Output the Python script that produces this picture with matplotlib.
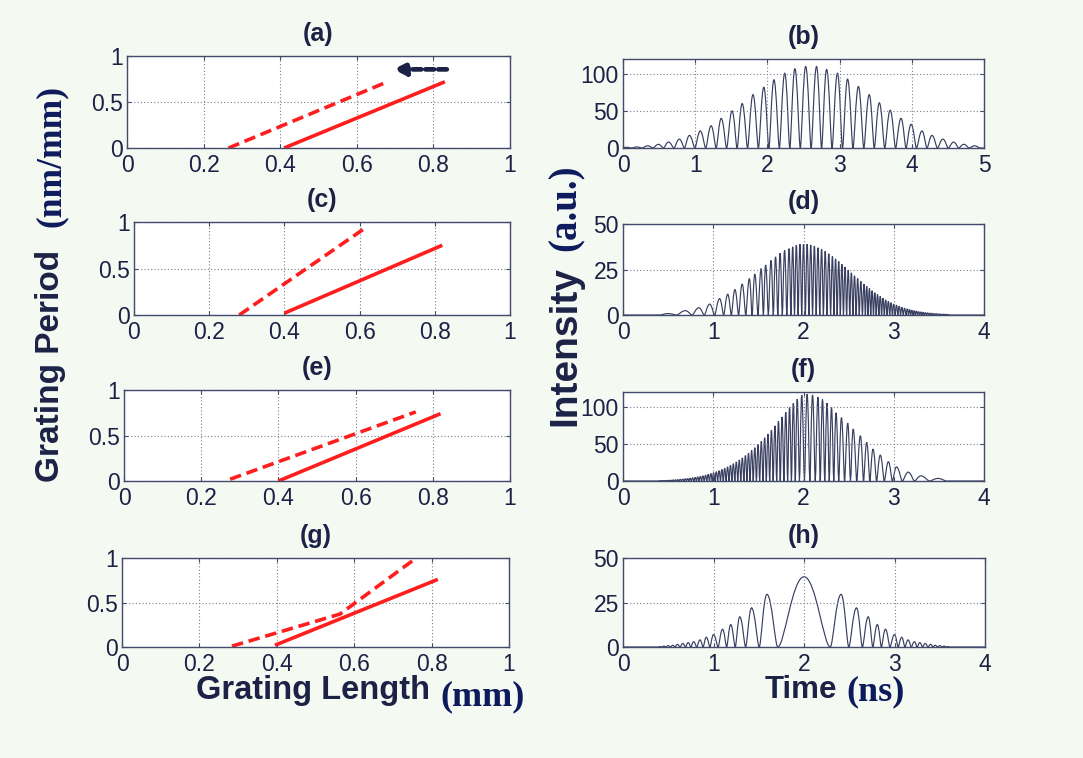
"""
Grating period profiles (left) and output pulse intensity (right).
"""

import matplotlib
matplotlib.use("Agg")
import matplotlib.pyplot as plt
from matplotlib.path import Path
from matplotlib.patches import PathPatch

# ─── Data ────────────────────────────────────────────────────────────────────

# left column: grating period vs grating length (solid / dashed red lines)
A_SOLID_X = [0.41, 0.83]
A_SOLID_Y = [0.0, 0.72]
A_DASH_X = [0.265, 0.68]
A_DASH_Y = [0.0, 0.72]
A_ARROW_TAIL = (0.835, 0.855)
A_ARROW_HEAD = (0.695, 0.855)

C_SOLID_X = [0.40, 0.82]
C_SOLID_Y = [0.02, 0.75]
C_DASH_X = [0.28, 0.62]
C_DASH_Y = [0.0, 0.95]

E_SOLID_X = [0.40, 0.82]
E_SOLID_Y = [0.0, 0.74]
E_DASH_X = [0.275, 0.756]
E_DASH_Y = [0.02, 0.76]

G_SOLID_X = [0.395, 0.816]
G_SOLID_Y = [0.02, 0.76]
G_DASH_X = [0.284, 0.563, 0.757]
G_DASH_Y = [0.01, 0.37, 0.99]

LEFT_XTICKS = [0, 0.2, 0.4, 0.6, 0.8, 1]
LEFT_XTICKLABELS = ["0", "0.2", "0.4", "0.6", "0.8", "1"]
LEFT_YTICKS = [0, 0.5, 1]
LEFT_YTICKLABELS = ["0", "0.5", "1"]

# right column: intensity peaks (time in ns, height in a.u.)
B_PEAK_T = [0.05, 0.19, 0.34, 0.49, 0.63, 0.78, 0.92, 1.07, 1.22, 1.36,
            1.51, 1.65, 1.80, 1.95, 2.09, 2.24, 2.38, 2.53, 2.68, 2.82,
            2.97, 3.11, 3.26, 3.41, 3.55, 3.70, 3.85, 3.99, 4.14, 4.28,
            4.43, 4.58, 4.72, 4.87]
B_PEAK_H = [1, 1.5, 3, 5, 8, 12, 17, 23, 30, 40,
            50, 60, 72, 82, 92, 101, 107, 110, 110, 106,
            101, 93, 83, 72, 61, 51, 40, 32, 23, 17,
            12, 8, 5, 3]

D_PEAK_T = [0.50, 0.69, 0.84, 0.96, 1.07, 1.16, 1.24, 1.32, 1.40, 1.46,
            1.53, 1.58, 1.64, 1.69, 1.74, 1.79, 1.84, 1.88, 1.92, 1.96,
            2.00, 2.04, 2.08, 2.12, 2.16, 2.20, 2.24, 2.28, 2.32, 2.355,
            2.39, 2.425, 2.46, 2.495, 2.53, 2.565, 2.60, 2.635, 2.67, 2.70,
            2.73, 2.76, 2.79, 2.82, 2.85, 2.88, 2.91, 2.94, 2.97, 3.00,
            3.03, 3.06, 3.09, 3.12, 3.15, 3.175, 3.20, 3.225, 3.25, 3.275,
            3.30, 3.325, 3.35, 3.375, 3.40, 3.425, 3.45, 3.475, 3.50, 3.525,
            3.55, 3.575, 3.60]
D_PEAK_H = [0.8, 2.4, 4, 6, 9, 11.4, 14, 17, 20, 22.5,
            25.5, 27.5, 30, 32, 34, 35.5, 36.5, 37.5, 38.5, 39,
            39, 39, 38.5, 38, 37, 36.2, 35.1, 33.7, 32.3, 30.9,
            29.5, 27.9, 26.4, 24.8, 23.2, 21.6, 20.1, 18.5, 17.0, 15.8,
            14.6, 13.4, 12.3, 11.3, 10.3, 9.3, 8.4, 7.6, 6.8, 6.1,
            5.5, 4.9, 4.3, 3.8, 3.4, 3.0, 2.7, 2.4, 2.2, 1.9,
            1.7, 1.5, 1.3, 1.2, 1.0, 0.9, 0.8, 0.7, 0.6, 0.5,
            0.45, 0.4, 0.3]

F_PEAK_T = [0.40, 0.425, 0.45, 0.476, 0.502, 0.528, 0.554, 0.58, 0.607, 0.634,
            0.661, 0.688, 0.715, 0.743, 0.771, 0.799, 0.827, 0.856, 0.885, 0.914,
            0.943, 0.973, 1.003, 1.033, 1.064, 1.095, 1.126, 1.158, 1.19, 1.222,
            1.255, 1.288, 1.322, 1.356, 1.39, 1.425, 1.46, 1.496, 1.532, 1.569,
            1.606, 1.644, 1.683, 1.722, 1.762, 1.803, 1.845, 1.887, 1.93, 1.98,
            2.04, 2.10, 2.16, 2.21, 2.26, 2.31, 2.36, 2.42, 2.49, 2.55,
            2.63, 2.70, 2.77, 2.85, 2.94, 3.03, 3.16, 3.30, 3.49]
F_PEAK_H = [0.5, 0.6, 0.7, 0.8, 1.0, 1.2, 1.4, 1.6, 1.9, 2.2,
            2.5, 2.9, 3.3, 3.8, 4.3, 4.9, 5.6, 6.3, 7.1, 8.0,
            9.0, 10.1, 11.3, 12.6, 14.0, 15.6, 17.3, 19.2, 21.2, 23.4,
            25.8, 28.4, 31.2, 34.3, 37.6, 41.2, 45.0, 49.2, 53.6, 58.4,
            63.4, 68.8, 74.5, 80.4, 86.5, 92.8, 99.0, 105.0, 110.5, 115.5,
            117, 116, 113, 110, 105, 99, 92, 85.5, 78, 70,
            61, 52, 43, 35, 26, 19, 12, 7, 3.5]

H_PEAK_T = [0.41, 0.45, 0.50, 0.55, 0.60, 0.66, 0.72, 0.78, 0.85, 0.92,
            1.00, 1.10, 1.19, 1.29, 1.42, 1.59, 2.00, 2.41, 2.58, 2.71,
            2.81, 2.90, 3.00, 3.08, 3.15, 3.22, 3.28, 3.34, 3.40, 3.45,
            3.50, 3.55, 3.59]
H_PEAK_H = [0.3, 0.5, 0.8, 1.0, 1.5, 2.0, 2.5, 3.0, 4.0, 5.5,
            7.0, 10, 12.6, 17, 22, 29.6, 39.5, 29.6, 22, 17,
            12.6, 10, 7, 5.5, 4, 3, 2.5, 2, 1.5, 1,
            0.8, 0.5, 0.3]
# zero crossings of (h) (the central lobe is wider)
H_ZEROS = [0.39, 0.43, 0.475, 0.525, 0.575, 0.63, 0.69, 0.75, 0.815, 0.885,
           0.96, 1.05, 1.145, 1.24, 1.355, 1.505, 1.71, 2.29, 2.495, 2.645,
           2.76, 2.855, 2.95, 3.04, 3.115, 3.185, 3.25, 3.31, 3.37, 3.425,
           3.475, 3.525, 3.57, 3.61]

# ─── Style ───────────────────────────────────────────────────────────────────

BG = "#f4f9f2"
NAVY = "#1b2246"
LABEL_NAVY = "#0d1a5c"
SPINE = "#434a6c"
TRACE = "#383f60"
RED = "#ff1e1e"
SANS = ["Liberation Sans", "DejaVu Sans"]
SERIF = ["Liberation Serif", "DejaVu Serif"]

K_LOW, K_TOP = 0.25, 0.45  # bezier handles: sharper troughs, rounder peaks

plt.rcParams["font.family"] = SANS


def style_axes(ax, xlim, ylim, xticks, xlabels, yticks, ylabels, title):
    ax.set_xlim(*xlim)
    ax.set_ylim(*ylim)
    ax.set_xticks(xticks)
    ax.set_xticklabels(xlabels)
    ax.set_yticks(yticks)
    ax.set_yticklabels(ylabels)
    ax.tick_params(direction="in", length=3, width=0.8, colors=SPINE,
                   labelcolor=NAVY, labelsize=16.5, top=True, right=True)
    ax.tick_params(axis="x", pad=4)
    ax.tick_params(axis="y", pad=3)
    ax.grid(True, linestyle=(0, (1, 2)), color="#7a7f90", linewidth=0.8)
    for sp in ax.spines.values():
        sp.set_color(SPINE)
        sp.set_linewidth(1.0)
    ax.set_title(title, fontsize=18, fontweight="bold", color=NAVY, pad=11)


def trace_path(peaks, heights, zeros, xmax):
    """One path of smooth lobes: zero -> peak -> zero for each peak."""
    if zeros is None:
        zeros = [peaks[0] - (peaks[1] - peaks[0]) / 2]
        zeros += [(a + b) / 2 for a, b in zip(peaks[:-1], peaks[1:])]
        zeros += [peaks[-1] + (peaks[-1] - peaks[-2]) / 2]
    verts = [(0, 0)]
    codes = [Path.MOVETO]
    for i, (p, h) in enumerate(zip(peaks, heights)):
        e0, e1 = zeros[i], zeros[i + 1]
        verts += [(e0, 0),
                  (e0 + K_LOW * (p - e0), 0), (p - K_TOP * (p - e0), h), (p, h),
                  (p + K_TOP * (e1 - p), h), (e1 - K_LOW * (e1 - p), 0), (e1, 0)]
        codes += [Path.LINETO] + [Path.CURVE4] * 6
    verts.append((xmax, 0))
    codes.append(Path.LINETO)
    return Path(verts, codes)


def draw_trace(ax, peaks, heights, xmax, zeros=None):
    patch = PathPatch(trace_path(peaks, heights, zeros, xmax),
                      facecolor="none", edgecolor=TRACE, linewidth=0.85)
    ax.add_patch(patch)


def draw_grating(ax, sx, sy, dx, dy):
    ax.plot(sx, sy, color=RED, linewidth=2.6, solid_capstyle="butt")
    ax.plot(dx, dy, color=RED, linewidth=2.6, dashes=(3.2, 1.6))


# ─── Figure ──────────────────────────────────────────────────────────────────

fig = plt.figure(figsize=(10.83, 7.58), dpi=100, facecolor=BG)

left_pos = [
    [0.1173, 0.8047, 0.3536, 0.1214],
    [0.1237, 0.5844, 0.3472, 0.1227],
    [0.1145, 0.3654, 0.3564, 0.1200],
    [0.1127, 0.1464, 0.3573, 0.1174],
]
right_pos = [
    [0.5753, 0.8047, 0.3333, 0.1174],
    [0.5753, 0.5844, 0.3333, 0.1200],
    [0.5753, 0.3654, 0.3333, 0.1174],
    [0.5753, 0.1464, 0.3342, 0.1174],
]

ax_a, ax_c, ax_e, ax_g = [fig.add_axes(p) for p in left_pos]
ax_b, ax_d, ax_f, ax_h = [fig.add_axes(p) for p in right_pos]

# left column
draw_grating(ax_a, A_SOLID_X, A_SOLID_Y, A_DASH_X, A_DASH_Y)
ax_a.annotate("", xy=A_ARROW_HEAD, xytext=A_ARROW_TAIL,
              arrowprops=dict(arrowstyle="-|>", color=NAVY, lw=3.4,
                              linestyle=(0, (1.8, 0.9)), mutation_scale=18,
                              shrinkA=0, shrinkB=0))
draw_grating(ax_c, C_SOLID_X, C_SOLID_Y, C_DASH_X, C_DASH_Y)
draw_grating(ax_e, E_SOLID_X, E_SOLID_Y, E_DASH_X, E_DASH_Y)
draw_grating(ax_g, G_SOLID_X, G_SOLID_Y, G_DASH_X, G_DASH_Y)

for ax, t in zip([ax_a, ax_c, ax_e, ax_g], ["(a)", "(c)", "(e)", "(g)"]):
    style_axes(ax, (0, 1), (0, 1), LEFT_XTICKS, LEFT_XTICKLABELS,
               LEFT_YTICKS, LEFT_YTICKLABELS, t)

# right column
draw_trace(ax_b, B_PEAK_T, B_PEAK_H, 5)
style_axes(ax_b, (0, 5), (0, 120), [0, 1, 2, 3, 4, 5],
           ["0", "1", "2", "3", "4", "5"], [0, 50, 100], ["0", "50", "100"], "(b)")

draw_trace(ax_d, D_PEAK_T, D_PEAK_H, 4)
style_axes(ax_d, (0, 4), (0, 50), [0, 1, 2, 3, 4],
           ["0", "1", "2", "3", "4"], [0, 25, 50], ["0", "25", "50"], "(d)")

draw_trace(ax_f, F_PEAK_T, F_PEAK_H, 4)
style_axes(ax_f, (0, 4), (0, 120), [0, 1, 2, 3, 4],
           ["0", "1", "2", "3", "4"], [0, 50, 100], ["0", "50", "100"], "(f)")

draw_trace(ax_h, H_PEAK_T, H_PEAK_H, 4, zeros=H_ZEROS)
style_axes(ax_h, (0, 4), (0, 50), [0, 1, 2, 3, 4],
           ["0", "1", "2", "3", "4"], [0, 25, 50], ["0", "25", "50"], "(h)")

# axis labels (mixed sans / serif as on the slide)
fig.text(51 / 1083, 1 - 366 / 758, "Grating Period", rotation=90,
         ha="center", va="center", fontsize=24, fontweight="bold",
         color=NAVY, family=SANS)
fig.text(51 / 1083, 1 - 156 / 758, "(nm/mm)", rotation=90,
         ha="center", va="center", fontsize=25.5, fontweight="bold",
         color=LABEL_NAVY, family=SERIF)
fig.text(313 / 1083, 1 - 690 / 758, "Grating Length",
         ha="center", va="center", fontsize=23.5, fontweight="bold",
         color=NAVY, family=SANS)
fig.text(483 / 1083, 1 - 697 / 758, "(mm)",
         ha="center", va="center", fontsize=26, fontweight="bold",
         color=LABEL_NAVY, family=SERIF)
fig.text(565 / 1083, 1 - 346 / 758, "Intensity", rotation=90,
         ha="center", va="center", fontsize=28, fontweight="bold",
         color=NAVY, family=SANS)
fig.text(566 / 1083, 1 - 208 / 758, "(a.u.)", rotation=90,
         ha="center", va="center", fontsize=28, fontweight="bold",
         color=LABEL_NAVY, family=SERIF)
fig.text(801 / 1083, 1 - 690 / 758, "Time",
         ha="center", va="center", fontsize=22.5, fontweight="bold",
         color=NAVY, family=SANS)
fig.text(876 / 1083, 1 - 692 / 758, "(ns)",
         ha="center", va="center", fontsize=26, fontweight="bold",
         color=LABEL_NAVY, family=SERIF)

fig.savefig("out.png", dpi=100, facecolor=BG)
